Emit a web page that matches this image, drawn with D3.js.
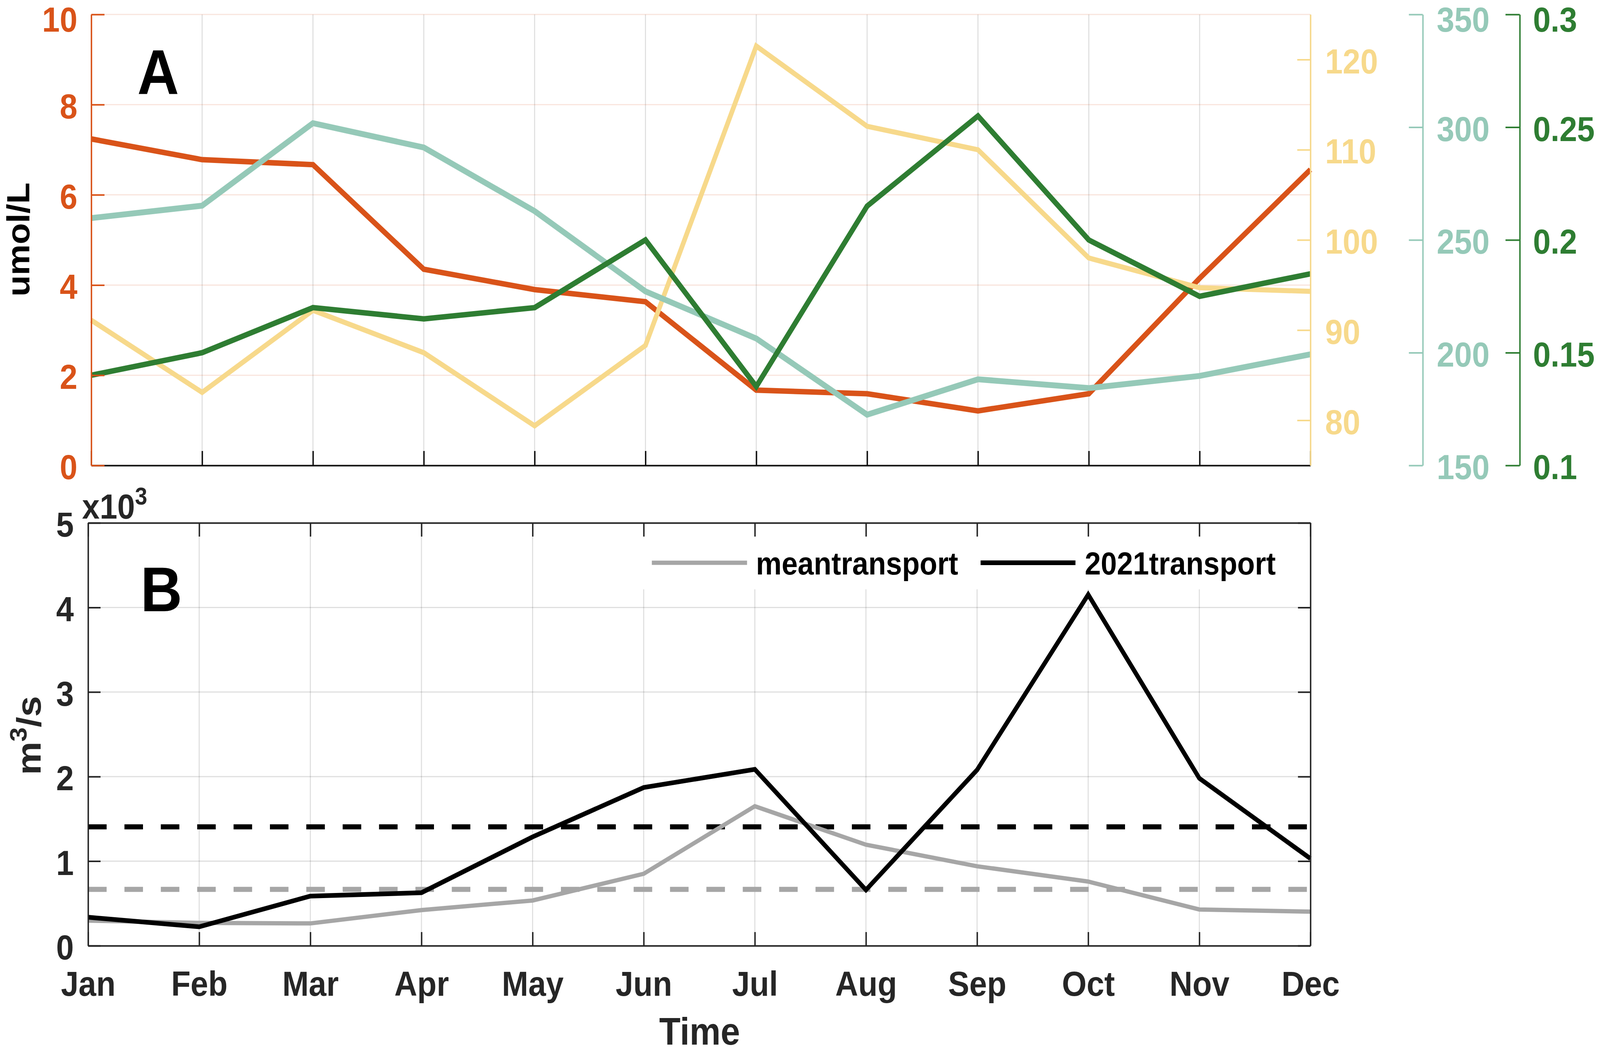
<!DOCTYPE html>
<html>
<head>
<meta charset="utf-8">
<script src="https://cdn.jsdelivr.net/npm/d3@7"></script>
<style>
  html, body { margin: 0; padding: 0; background: #fff; overflow: hidden; }
  svg { display: block; width: 100vw; height: 100vh; }
  text { font-family: "Liberation Sans", Arial, sans-serif; font-weight: bold; }
</style>
</head>
<body>
<div id="chart"></div>
<script>
// month categories
const months = ["Jan", "Feb", "Mar", "Apr", "May", "Jun", "Jul", "Aug", "Sep", "Oct", "Nov", "Dec"];

// panel A series (each on its own axis)
const orangeVals = [7.24, 6.78, 6.67, 4.35, 3.90, 3.63, 1.67, 1.59, 1.21, 1.59, 4.15, 6.56];
const yellowVals = [91.1, 83.1, 92.2, 87.5, 79.4, 88.3, 121.5, 112.6, 110.0, 98.0, 94.7, 94.3];
const tealVals = [259.7, 265.2, 301.8, 291.0, 262.8, 227.2, 206.3, 172.5, 188.2, 184.3, 189.7, 199.3];
const greenVals = [0.140, 0.150, 0.170, 0.165, 0.170, 0.200, 0.135, 0.215, 0.255, 0.200, 0.175, 0.185];

// panel B series (x10^3 m3/s)
const meanTransport = [0.297, 0.270, 0.264, 0.422, 0.535, 0.851, 1.650, 1.195, 0.940, 0.759, 0.429, 0.403];
const transport2021 = [0.337, 0.224, 0.587, 0.627, 1.287, 1.871, 2.086, 0.660, 2.079, 4.152, 1.980, 1.030];
const meanLevels = [0.667, 1.406]; // mean, 2021 averages (dashed)

// tick values
const orangeTicks = [0, 2, 4, 6, 8, 10];
const yellowTicks = [80, 90, 100, 110, 120];
const tealTicks = [150, 200, 250, 300, 350];
const greenTicks = [0.1, 0.15, 0.2, 0.25, 0.3];
const transportTicks = [0, 1, 2, 3, 4, 5];

const legendLabels = ["meantransport", "2021transport"];

const c = {
  orange: "#D95319",
  yellow: "#F7D98B",
  teal: "#95C9B8",
  green: "#2E7D32",
  gray: "#A6A6A6",
  dark: "#262626"
};

const W = 4487, H = 2697;
const fs = 89;

// drawn in reference pixel units, stretched to fill the window
const svg = d3.select("#chart").append("svg")
  .attr("viewBox", "0 0 " + W + " " + H)
  .attr("preserveAspectRatio", "none");

svg.append("rect").attr("width", W).attr("height", H).attr("fill", "#fff");

// ---------- Panel A ----------
const A = { left: 256, right: 3675, top: 37, bottom: 1191 };

const xA = d3.scalePoint().domain(months).range([A.left, A.right]);
const yOrange = d3.scaleLinear().domain([0, 10]).range([A.bottom, A.top]);
const yYellow = d3.scaleLinear().domain([75, 125]).range([A.bottom, A.top]);
const yTeal = d3.scaleLinear().domain([150, 350]).range([A.bottom, A.top]);
const yGreen = d3.scaleLinear().domain([0.1, 0.3]).range([A.bottom, A.top]);

let gA = svg.append("g");

// grid
gA.append("g")
  .selectAll("line")
  .data(months)
  .join("line")
  .attr("x1", d => xA(d)).attr("x2", d => xA(d))
  .attr("y1", A.top).attr("y2", A.bottom)
  .attr("stroke", c.dark).attr("stroke-opacity", 0.15).attr("stroke-width", 3);

gA.append("g")
  .selectAll("line")
  .data(orangeTicks)
  .join("line")
  .attr("x1", A.left).attr("x2", A.right)
  .attr("y1", d => yOrange(d)).attr("y2", d => yOrange(d))
  .attr("stroke", c.orange).attr("stroke-opacity", 0.15).attr("stroke-width", 3);

// lines
const seriesA = [
  { vals: orangeVals, y: yOrange, color: c.orange, w: 14 },
  { vals: yellowVals, y: yYellow, color: c.yellow, w: 13 },
  { vals: tealVals, y: yTeal, color: c.teal, w: 15 },
  { vals: greenVals, y: yGreen, color: c.green, w: 14 }
];

seriesA.forEach(function (s) {
  const line = d3.line()
    .x((d, i) => xA(months[i]))
    .y(d => s.y(d));
  gA.append("path")
    .datum(s.vals)
    .attr("d", line)
    .attr("fill", "none")
    .attr("stroke", s.color)
    .attr("stroke-width", s.w)
    .attr("stroke-linejoin", "miter");
});

// bottom axis (ticks inward, no labels)
gA.append("g")
  .attr("transform", "translate(0," + A.bottom + ")")
  .call(d3.axisBottom(xA).tickSize(-37).tickSizeOuter(0).tickFormat(""))
  .call(g => g.select(".domain").attr("stroke", "#111").attr("stroke-width", 4))
  .call(g => g.selectAll(".tick line").attr("stroke", "#111").attr("stroke-width", 4));

function styleAxis(g, color, lw) {
  g.select(".domain").attr("stroke", color).attr("stroke-width", lw);
  g.selectAll(".tick line").attr("stroke", color).attr("stroke-width", lw);
  g.selectAll(".tick text")
    .attr("fill", color)
    .attr("font-size", fs)
    .attr("font-weight", "bold")
    .attr("font-family", "Liberation Sans, Arial, sans-serif");
}

// vertical-axis labels sit a little below their ticks;
// the topmost one is nudged down so it stays inside the page
function lowerLabels(g) {
  const texts = g.selectAll(".tick text").attr("dy", "0.39em");
  texts.filter((d, i, n) => i === n.length - 1 && g.attr("data-top") === "1").attr("dy", "0.49em");
}

// left orange axis
gA.append("g")
  .attr("data-top", "1")
  .attr("transform", "translate(" + A.left + ",0)")
  .call(d3.axisLeft(yOrange).tickValues(orangeTicks).tickSize(-37).tickSizeOuter(0).tickPadding(39)
    .tickFormat(d3.format("d")))
  .call(g => styleAxis(g, c.orange, 4))
  .call(lowerLabels);

// right yellow axis
gA.append("g")
  .attr("transform", "translate(" + A.right + ",0)")
  .call(d3.axisRight(yYellow).tickValues(yellowTicks).tickSize(-37).tickSizeOuter(0).tickPadding(41)
    .tickFormat(d3.format("d")))
  .call(g => styleAxis(g, c.yellow, 4))
  .call(lowerLabels);

// teal axis
gA.append("g")
  .attr("data-top", "1")
  .attr("transform", "translate(3990,0)")
  .call(d3.axisRight(yTeal).tickValues(tealTicks).tickSize(-39).tickSizeOuter(0).tickPadding(39)
    .tickFormat(d3.format("d")))
  .call(g => styleAxis(g, c.teal, 4))
  .call(lowerLabels);

// green axis
gA.append("g")
  .attr("data-top", "1")
  .attr("transform", "translate(4262,0)")
  .call(d3.axisRight(yGreen).tickValues(greenTicks).tickSize(-40).tickSizeOuter(0).tickPadding(37)
    .tickFormat(d => String(+d.toFixed(2))))
  .call(g => styleAxis(g, c.green, 4))
  .call(lowerLabels);

gA.append("text")
  .attr("x", 385).attr("y", 240)
  .attr("font-size", 162)
  .attr("fill", "#000")
  .text("A");

gA.append("text")
  .attr("transform", "translate(82,613) rotate(-90)")
  .attr("text-anchor", "middle")
  .attr("font-size", fs)
  .attr("fill", "#000")
  .text("umol/L");

// ---------- Panel B ----------
const B = { left: 247, right: 3675, top: 1338, bottom: 2420 };

const xB = d3.scalePoint().domain(months).range([B.left, B.right]);
const yB = d3.scaleLinear().domain([0, 5]).range([B.bottom, B.top]);

let gB = svg.append("g");

gB.append("g")
  .selectAll("line")
  .data(months)
  .join("line")
  .attr("x1", d => xB(d)).attr("x2", d => xB(d))
  .attr("y1", B.top).attr("y2", B.bottom)
  .attr("stroke", c.dark).attr("stroke-opacity", 0.15).attr("stroke-width", 3);

gB.append("g")
  .selectAll("line")
  .data(transportTicks)
  .join("line")
  .attr("x1", B.left).attr("x2", B.right)
  .attr("y1", d => yB(d)).attr("y2", d => yB(d))
  .attr("stroke", c.dark).attr("stroke-opacity", 0.15).attr("stroke-width", 3);

// legend background hides grid
gB.append("rect")
  .attr("x", 1800).attr("y", 1372)
  .attr("width", 1810).attr("height", 136)
  .attr("fill", "#fff");

// dashed mean levels
const dashColors = [c.gray, "#000"];
gB.append("g")
  .selectAll("line")
  .data(meanLevels)
  .join("line")
  .attr("x1", B.left).attr("x2", B.right)
  .attr("y1", d => yB(d)).attr("y2", d => yB(d))
  .attr("stroke", (d, i) => dashColors[i])
  .attr("stroke-width", 13)
  .attr("stroke-dasharray", "52,50");

const lineB = d3.line()
  .x((d, i) => xB(months[i]))
  .y(d => yB(d));

gB.append("path")
  .datum(meanTransport)
  .attr("d", lineB)
  .attr("fill", "none")
  .attr("stroke", c.gray)
  .attr("stroke-width", 11);

gB.append("path")
  .datum(transport2021)
  .attr("d", lineB)
  .attr("fill", "none")
  .attr("stroke", "#000")
  .attr("stroke-width", 12);

// box axes with inward ticks
gB.append("g")
  .attr("transform", "translate(0," + B.bottom + ")")
  .call(d3.axisBottom(xB).tickSize(-35).tickSizeOuter(0).tickPadding(65))
  .call(g => styleAxis(g, c.dark, 4));

gB.append("g")
  .attr("transform", "translate(0," + B.top + ")")
  .call(d3.axisTop(xB).tickSize(-35).tickSizeOuter(0).tickFormat(""))
  .call(g => styleAxis(g, c.dark, 4));

gB.append("g")
  .attr("transform", "translate(" + B.left + ",0)")
  .call(d3.axisLeft(yB).tickValues(transportTicks).tickSize(-35).tickSizeOuter(0).tickPadding(40)
    .tickFormat(d3.format("d")))
  .call(g => styleAxis(g, c.dark, 4))
  .call(lowerLabels);

gB.append("g")
  .attr("transform", "translate(" + B.right + ",0)")
  .call(d3.axisRight(yB).tickValues(transportTicks).tickSize(-35).tickSizeOuter(0).tickFormat(""))
  .call(g => styleAxis(g, c.dark, 4));

// exponent label
let expo = gB.append("text")
  .attr("x", 230).attr("y", 1327)
  .attr("font-size", fs)
  .attr("fill", c.dark);
expo.append("tspan").text("x10");
expo.append("tspan").attr("dy", -36).attr("font-size", 62).text("3");

gB.append("text")
  .attr("x", 394).attr("y", 1564)
  .attr("font-size", 162)
  .attr("fill", "#000")
  .text("B");

let ylabB = gB.append("text")
  .attr("transform", "translate(114,1882) rotate(-90)")
  .attr("text-anchor", "middle")
  .attr("font-size", 96)
  .attr("fill", c.dark);
ylabB.append("tspan").text("m");
ylabB.append("tspan").attr("dy", -40).attr("font-size", 66).text("3");
ylabB.append("tspan").attr("dy", 40).text("/s");

gB.append("text")
  .attr("x", 1962).attr("y", 2673)
  .attr("text-anchor", "middle")
  .attr("font-size", 98)
  .attr("fill", c.dark)
  .text("Time");

// legend
const legendItems = [
  { label: legendLabels[0], color: c.gray, x1: 1828, x2: 2095, tx: 2120, w: 11 },
  { label: legendLabels[1], color: "#000", x1: 2750, x2: 3016, tx: 3042, w: 12 }
];
let leg = gB.append("g");
leg.selectAll("line")
  .data(legendItems)
  .join("line")
  .attr("x1", d => d.x1).attr("x2", d => d.x2)
  .attr("y1", 1440).attr("y2", 1440)
  .attr("stroke", d => d.color)
  .attr("stroke-width", d => d.w);
leg.selectAll("text")
  .data(legendItems)
  .join("text")
  .attr("x", d => d.tx).attr("y", 1470)
  .attr("font-size", 81)
  .attr("fill", "#000")
  .text(d => d.label);
</script>
</body>
</html>
